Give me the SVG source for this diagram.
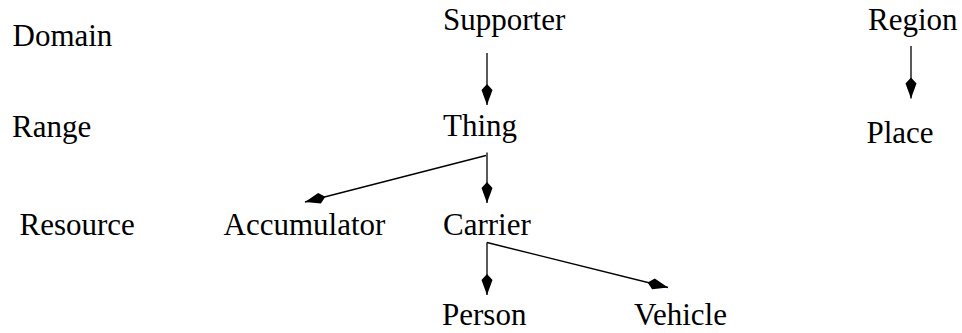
<svg xmlns="http://www.w3.org/2000/svg" width="962" height="333" viewBox="0 0 962 333">
<style>
text{font-family:"Liberation Serif","Times New Roman",serif;font-size:31px;fill:#000}
.c{stroke:#000;stroke-width:1.3;fill:none}
</style>
<defs>
<marker id="ah" markerUnits="userSpaceOnUse" markerWidth="24" markerHeight="14" viewBox="0 -7 24 14" refX="21" refY="0" orient="auto" overflow="visible">
<path d="M0,0 L6,-5.5 L21,0 L6,5.5 Z" fill="#000"/>
</marker>
</defs>
<rect width="962" height="333" fill="#fff"/>
<g id="labels">
<text x="12.5" y="45.7">Domain</text>
<text x="12" y="136.5">Range</text>
<text x="19.5" y="234.5">Resource</text>
</g>
<g id="node-supporter"><text x="443" y="30">Supporter</text></g>
<g id="node-region"><text x="868" y="30">Region</text></g>
<g id="node-thing"><text x="443" y="135.7">Thing</text></g>
<g id="node-place"><text x="866.5" y="143.3">Place</text></g>
<g id="node-accumulator"><text x="223.5" y="235">Accumulator</text></g>
<g id="node-carrier"><text x="443" y="235">Carrier</text></g>
<g id="node-person"><text x="442" y="325">Person</text></g>
<g id="node-vehicle"><text x="634" y="325">Vehicle</text></g>
<g id="connectors">
<path class="c" d="M487,53 L487,105" marker-end="url(#ah)"/>
<path class="c" d="M911,46 L911,98.5" marker-end="url(#ah)"/>
<path class="c" d="M487,152.5 L487,203" marker-end="url(#ah)"/>
<path class="c" d="M486,155.5 L305,202" marker-end="url(#ah)"/>
<path class="c" d="M487,242.5 L487,295" marker-end="url(#ah)"/>
<path class="c" d="M487,242.5 L668,287.5" marker-end="url(#ah)"/>
</g>
</svg>
